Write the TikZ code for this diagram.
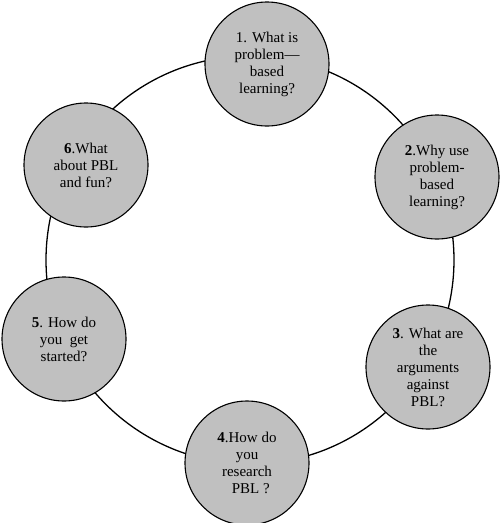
\documentclass[tikz,border=0pt]{standalone}
\usepackage{fontspec}
\setmainfont{Liberation Serif}
\begin{document}
\begin{tikzpicture}[x=1pt,y=-1pt,
  topic/.style={circle, draw=black, line width=1.1pt, fill={rgb,255:red,192;green,192;blue,192},
    minimum size=124pt, inner sep=0pt, align=center, font=\fontsize{15}{17}\selectfont},
  ring/.style={draw=black, line width=1.3pt}]
\useasboundingbox (0,0) rectangle (500,523);
\coordinate (ringc) at (250,260);
\draw[ring] (ringc) circle[radius=204pt];
\node[topic] (q1) at (267,64) {1. What is\\problem---\\based\\learning?};
\node[topic] (q2) at (437,177) {\textbf{2}.Why use\\problem-\\based\\learning?};
\node[topic] (q3) at (428,367) {\textbf{3}. What are\\the\\arguments\\against\\PBL?};
\node[topic] (q4) at (247,463) {\textbf{4}.How do\\you\\research\\\ \ PBL ?};
\node[topic] (q5) at (64,339) {\textbf{5}. How do\\you\ \ get\\started?};
\node[topic] (q6) at (86,165) {\textbf{6}.What\\about PBL\\and fun?};
\end{tikzpicture}
\end{document}
